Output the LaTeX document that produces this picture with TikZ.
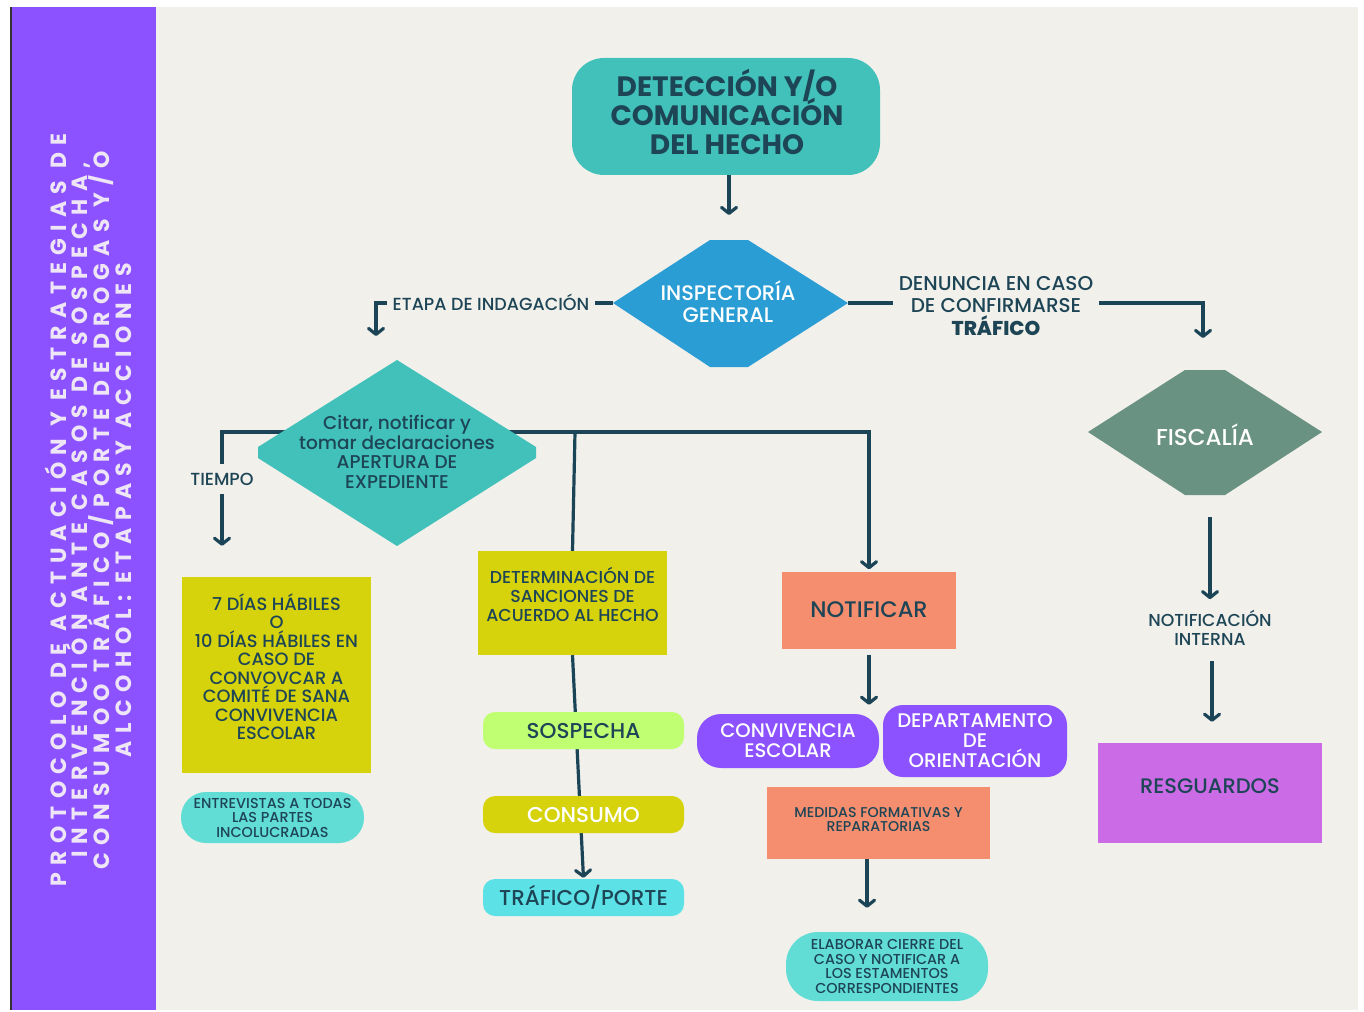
\documentclass[tikz,border=0pt]{standalone}
\usepackage{fontspec}
\usetikzlibrary{arrows.meta}
\setmainfont{Poppins}
\newfontfamily\popmed{Poppins Medium}
\newfontfamily\sidefont{Poppins}[LetterSpace=33]

\definecolor{bg}{HTML}{F1F0EB}
\definecolor{sidebar}{HTML}{8C52FF}
\definecolor{sidetext}{HTML}{EEE6F6}
\definecolor{tealc}{HTML}{41C1BA}
\definecolor{bluec}{HTML}{2A9DD4}
\definecolor{fiscc}{HTML}{6A9282}
\definecolor{resgc}{HTML}{CB6CE6}
\definecolor{yellowc}{HTML}{D6D30C}
\definecolor{greenc}{HTML}{C1FF72}
\definecolor{cyanc}{HTML}{5CE1E6}
\definecolor{salmonc}{HTML}{F48E6E}
\definecolor{pillc}{HTML}{62DDD5}
\definecolor{ink}{HTML}{1D4556}
\definecolor{linec}{HTML}{1B4457}

% font size with a fixed line pitch, even for lines carrying accents
\newcommand{\fs}[2]{\fontsize{#1}{#2}\selectfont\lineskiplimit=-100pt\relax}

\begin{document}
\begin{tikzpicture}[x=1pt,y=-1pt]
\tikzset{
  conn/.style={draw=linec, line width=3.2pt},
  arr/.style={conn, -{Straight Barb[length=6pt,width=15pt,round]}},
  txt/.style={text=ink, align=center, inner sep=0pt},
  wtxt/.style={text=white, align=center, inner sep=0pt},
  box/.style={inner sep=0pt, draw=none},
  lbl/.style={fill=bg, text=ink, align=center, inner sep=6pt},
}
\useasboundingbox (0,0) rectangle (1364,1011);

% page and sidebar
\fill[white] (0,0) rectangle (1364,1011);
\fill[bg] (10,7) rectangle (1358,1010);
\fill[sidebar] (10,7) rectangle (156,1010);
\draw[line width=2pt, draw=black!80] (11,7) -- (11,1010);

\node[rotate=90, text=sidetext, align=center, inner sep=0pt,
      font=\sidefont\bfseries\fs{22}{21.7}] (title) at (88,510)
  {PROTOCOLO DE ACTUACIÓN Y ESTRATEGIAS DE\\
   INTERVENCIÓN ANTE CASOS DE SOSPECHA,\\
   CONSUMOO TRÁFICO/PORTE DE DROGAS Y/O\\
   ALCOHOL: ETAPASY ACCIONES};

% ---------- connectors (drawn below the shapes) ----------
\coordinate (insp-w) at (613,303);
\coordinate (insp-e) at (848,303);
\coordinate (bus) at (397,432);
\coordinate (etapa-end) at (376,336);
\coordinate (den-end) at (1203,338);
\coordinate (det-end) at (729,215);

% top box
\node[box, fill=tealc, rounded corners=32, minimum width=308, minimum height=117] (det) at (726,116.5) {};
\node[txt, font=\bfseries\fs{28}{29}] (det-t) at (727,112)
  {DETECCIÓN Y/O\\COMUNICACIÓN\\DEL HECHO};
\draw[arr] (det.south -| det-end) -- (det-end);

% branches from INSPECTORÍA GENERAL
\draw[arr] (insp-w) -| (etapa-end);
\node[lbl, font=\popmed\fs{17.5}{20}] (etapa) at (491,302) {ETAPA DE INDAGACIÓN};
\draw[arr] (insp-e) -| (den-end);
\node[lbl, font=\popmed\fs{20}{22.5}, inner sep=6pt] (den) at (996,306)
  {DENUNCIA EN CASO\\DE CONFIRMARSE\\{\bfseries TRÁFICO}};

% boxes below the expediente diamond
\node[box, fill=yellowc, minimum width=189, minimum height=196] (plazo) at (276.5,675) {};
\node[box, fill=yellowc, minimum width=189, minimum height=104] (sanc) at (572.5,603) {};
\node[box, fill=salmonc, minimum width=174, minimum height=77,
      txt, font=\popmed\fs{22.5}{24}] (notif) at (869,610) {NOTIFICAR};

% lines out of the expediente diamond
\node[txt, font=\popmed\fs{17.5}{18}, inner sep=9pt] (tiempo) at (222,479) {TIEMPO};
\draw[conn] (bus) -| (tiempo.north);
\draw[arr, shorten >=31pt] (tiempo.south) -- (tiempo.south |- plazo.north);
\draw[arr, shorten >=2pt] (bus) -| (notif.north);
\draw[conn] (575,432) -- (sanc.north);

% sanctions column
\node[box, fill=cyanc, rounded corners=12, minimum width=201, minimum height=37,
      txt, font=\popmed\fs{21.5}{22}] (traf) at (583.5,897.5) {TRÁFICO/PORTE};
\draw[arr, shorten >=1pt] (sanc.south) -- (traf.north);
\node[box, fill=greenc, rounded corners=12, minimum width=201, minimum height=37,
      txt, font=\popmed\fs{21.5}{22}] (sosp) at (583.5,730.5) {SOSPECHA};
\node[box, fill=yellowc, rounded corners=12, minimum width=201, minimum height=37,
      wtxt, font=\popmed\fs{21.5}{22}] (cons) at (583.5,814.5) {CONSUMO};

% shapes
\fill[bluec] (insp-w) -- (710,240) -- (748,240) -- (insp-e) -- (748,367) -- (710,367) -- cycle;
\node[wtxt, font=\popmed\fs{21}{22}] (insp) at (728,302) {INSPECTORÍA\\GENERAL};

\fill[tealc] (397,360) -- (536,447) -- (536,458) -- (397,546) -- (258,458) -- (258,447) -- cycle;
\node[txt, font=\popmed\fs{18.5}{19.6}] (citar) at (397,452)
  {Citar, notificar y\\tomar declaraciones\\APERTURA DE\\EXPEDIENTE};

\fill[fiscc] (1088,432) -- (1185,370) -- (1225,370) -- (1322,432) -- (1225,495) -- (1185,495) -- cycle;
\node[wtxt, font=\popmed\fs{23}{24}] (fisc) at (1205,435) {FISCALÍA};
\coordinate (fisc-s) at (1210,495);

% texts inside the rectangles
\node[txt, font=\popmed\fs{17.8}{18.5}] (plazo-t) at ([yshift=8.5pt]plazo.center)
  {7 DÍAS HÁBILES\\O\\10 DÍAS HÁBILES EN\\CASO DE\\CONVOVCAR A\\COMITÉ DE SANA\\CONVIVENCIA\\ESCOLAR};
\node[txt, font=\popmed\fs{17.3}{19}] (sanc-t) at ([yshift=9pt]sanc.center)
  {DETERMINACIÓN DE\\SANCIONES DE\\ACUERDO AL HECHO};

\node[box, fill=pillc, rounded corners=25, minimum width=183, minimum height=51,
      txt, font=\popmed\fs{14.4}{14.5}] (entrev) at (272.5,817.5)
  {ENTREVISTAS A TODAS\\LAS PARTES\\INCOLUCRADAS};

% notify column
\node[box, fill=sidebar, rounded corners=24, minimum width=182, minimum height=54,
      wtxt, font=\popmed\fs{19.6}{20}] (conv) at (788,741) {CONVIVENCIA\\ESCOLAR};
\node[box, fill=sidebar, rounded corners=20, minimum width=184, minimum height=72,
      wtxt, font=\popmed\fs{19.7}{20}] (dept) at (975,741) {DEPARTAMENTO\\DE\\ORIENTACIÓN};
\draw[arr, shorten <=6pt] (notif.south) -- (notif.south |- dept.north);
\node[box, fill=salmonc, minimum width=223, minimum height=72] (medid) at (878.5,823) {};
\node[txt, font=\popmed\fs{14.2}{14}] (medid-t) at ([yshift=3pt]medid.center)
  {MEDIDAS FORMATIVAS Y\\REPARATORIAS};
\node[box, fill=pillc, rounded corners=32, minimum width=202, minimum height=69,
      txt, font=\popmed\fs{14.4}{14.7}] (elab) at (887,966.5)
  {ELABORAR CIERRE DEL\\CASO Y NOTIFICAR A\\LOS ESTAMENTOS\\CORRESPONDIENTES};
\draw[arr, shorten >=24pt] (medid.south -| 867,0) -- (elab.north -| 867,0);

% prosecutor column
\node[txt, font=\popmed\fs{17.3}{19}] (notint) at (1210,628) {NOTIFICACIÓN\\INTERNA};
\node[box, fill=resgc, minimum width=224, minimum height=100] (resg) at (1210,793) {};
\node[txt, font=\popmed\fs{21}{22}] (resg-t) at ([yshift=7pt]resg.center) {RESGUARDOS};
\draw[arr, shorten <=22pt, shorten >=11pt] (fisc-s) -- (notint.north);
\draw[arr, shorten <=15pt, shorten >=21pt] (notint.south -| 1212,0) -- (resg.north -| 1212,0);
\end{tikzpicture}
\end{document}
